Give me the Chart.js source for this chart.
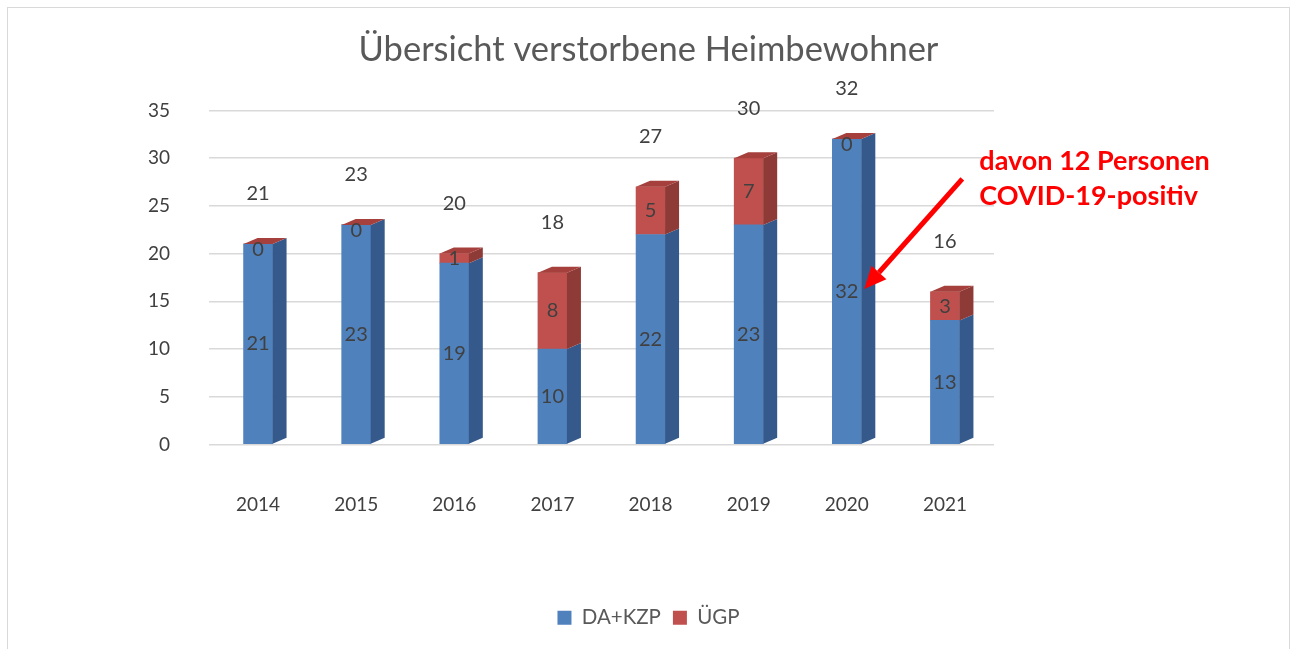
<!DOCTYPE html>
<html><head><meta charset="utf-8">
<script src="https://cdn.jsdelivr.net/npm/chart.js@4/dist/chart.umd.min.js"></script>
<style>
html,body{margin:0;padding:0;background:#fff;}
#wrap{position:absolute;left:7px;top:7px;width:1283px;height:645px;border:1px solid #d9d9d9;box-sizing:border-box;}
canvas{position:absolute;left:0;top:0;display:block}
</style></head><body>
<div id="wrap"><canvas id="c" width="1281" height="641"></canvas></div>
<script>
const categories = ['2014','2015','2016','2017','2018','2019','2020','2021'];
const daKzp = [21,23,19,10,22,23,32,13];
const uegp = [0,0,1,8,5,7,0,3];
const totals = [21,23,20,18,27,30,32,16];
const yTicks = [0,5,10,15,20,25,30,35];
const annotationLines = ['davon 12 Personen','COVID-19-positiv'];
const annotationCategory = '2020';
const annotationValue = 16.3;

const FONT = "Lato, 'Open Sans', sans-serif";
const TXT = '#404040';
const DEPTH = {dx:14, dy:6};

const threeD = {
  id:'threeD',
  afterDatasetsDraw(chart){
    const ctx = chart.ctx;
    const m0 = chart.getDatasetMeta(0), m1 = chart.getDatasetMeta(1);
    const sides = ['#35598a','#8e3a37'];
    ctx.save();
    categories.forEach((c,i)=>{
      [m0,m1].forEach((meta,k)=>{
        const b = meta.data[i];
        const p = b.getProps(['x','y','base','width'],true);
        const r = p.x + p.width/2;
        const top = Math.min(p.y,p.base), bot = Math.max(p.y,p.base);
        if (bot-top < 0.5) return;
        ctx.fillStyle = sides[k];
        ctx.beginPath();
        ctx.moveTo(r,bot); ctx.lineTo(r,top);
        ctx.lineTo(r+DEPTH.dx, top-DEPTH.dy); ctx.lineTo(r+DEPTH.dx, bot-DEPTH.dy);
        ctx.closePath(); ctx.fill();
      });
      const t = m1.data[i].getProps(['x','y','width'],true);
      const l = t.x - t.width/2, r = t.x + t.width/2;
      ctx.fillStyle = '#a5403d';
      ctx.beginPath();
      ctx.moveTo(l,t.y); ctx.lineTo(r,t.y);
      ctx.lineTo(r+DEPTH.dx,t.y-DEPTH.dy); ctx.lineTo(l+DEPTH.dx,t.y-DEPTH.dy);
      ctx.closePath(); ctx.fill();
    });
    ctx.restore();
  },
  afterDraw(chart){
    const ctx = chart.ctx;
    const m0 = chart.getDatasetMeta(0), m1 = chart.getDatasetMeta(1);
    ctx.save();
    ctx.font = '20px ' + FONT;
    ctx.fillStyle = TXT;
    ctx.textAlign = 'center';
    ctx.textBaseline = 'middle';
    categories.forEach((c,i)=>{
      [[m0,daKzp],[m1,uegp]].forEach(([meta,vals])=>{
        const p = meta.data[i].getProps(['x','y','base'],true);
        let y = (p.y+p.base)/2;
        if (vals[i]===0) y = p.y + 6;
        ctx.fillText(String(vals[i]), p.x, y);
      });
      const t = m1.data[i].getProps(['x','y'],true);
      ctx.fillText(String(totals[i]), t.x, t.y - 50);
    });
    // annotation
    const idx = categories.indexOf(annotationCategory);
    const b = m0.data[idx].getProps(['x','width'],true);
    const tipX = b.x + b.width/2 + 3;
    const tipY = chart.scales.y.getPixelForValue(annotationValue);
    const sx = tipX + 98, sy = tipY - 110;
    ctx.strokeStyle = '#ff0000'; ctx.fillStyle = '#ff0000';
    ctx.lineWidth = 5;
    const ang = Math.atan2(tipY-sy, tipX-sx);
    const hl = 22, hw = 10;
    const bx = tipX - hl*Math.cos(ang), by = tipY - hl*Math.sin(ang);
    ctx.beginPath(); ctx.moveTo(sx,sy); ctx.lineTo(bx,by); ctx.stroke();
    ctx.beginPath();
    ctx.moveTo(tipX,tipY);
    ctx.lineTo(bx + hw*Math.sin(ang), by - hw*Math.cos(ang));
    ctx.lineTo(bx - hw*Math.sin(ang), by + hw*Math.cos(ang));
    ctx.closePath(); ctx.fill();
    ctx.font = 'bold 27px ' + FONT;
    ctx.textAlign = 'left';
    ctx.fillText(annotationLines[0], tipX + 115, tipY - 128);
    ctx.fillText(annotationLines[1], tipX + 115, tipY - 93);
    ctx.restore();
  }
};

new Chart(document.getElementById('c'), {
  type:'bar',
  data:{
    labels: categories,
    datasets:[
      {label:'DA+KZP', data:daKzp, backgroundColor:'#4f81bd', barThickness:29, stack:'s'},
      {label:'ÜGP', data:uegp, backgroundColor:'#c0504d', barThickness:29, stack:'s'}
    ]
  },
  options:{
    responsive:false,
    animation:false,
    devicePixelRatio:1,
    layout:{padding:{left:0,right:0,top:0,bottom:11}},
    plugins:{
      title:{display:true, text:'Übersicht verstorbene Heimbewohner', color:'#595959',
        font:{family:FONT, size:34.5, weight:'normal'}, padding:{top:21,bottom:40}},
      legend:{position:'bottom', labels:{color:'#595959', boxWidth:14, boxHeight:14,
        font:{family:FONT,size:20.5}, padding:12}},
      tooltip:{enabled:false}
    },
    scales:{
      x:{stacked:true, grid:{display:false, drawTicks:false}, border:{display:false},
        ticks:{color:TXT, font:{family:FONT,size:19}, padding:49},
        afterFit(s){ s.height = 151; }},
      y:{stacked:true, min:0, max:35,
        afterBuildTicks(s){ s.ticks = yTicks.map(v=>({value:v})); },
        grid:{color:'#d9d9d9', lineWidth:1.5, drawTicks:false}, border:{display:false},
        ticks:{color:TXT, font:{family:FONT,size:19}, padding:39},
        afterFit(s){ s.width = 201; }},
      yR:{position:'right', display:true, min:0, max:35,
        grid:{display:false, drawTicks:false}, border:{display:false},
        ticks:{display:false},
        afterFit(s){ s.width = 295; }}
    }
  },
  plugins:[threeD]
});
</script>
</body></html>
